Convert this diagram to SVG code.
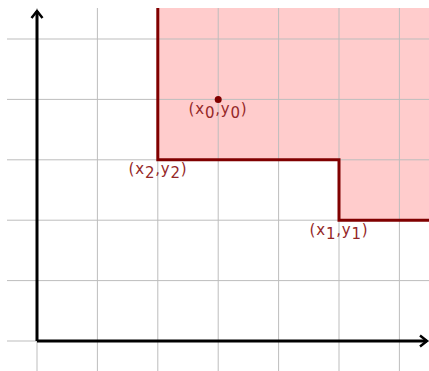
<svg xmlns="http://www.w3.org/2000/svg" width="429" height="371" viewBox="0 0 429 371">
<style>
.grid{stroke:#bdbdbd;stroke-width:1;fill:none}
.axis{stroke:#000;stroke-width:3;fill:none}
.region{fill:#ffcccc;stroke:none}
.border{stroke:#800000;stroke-width:3;fill:none}
.lbl{font-family:"DejaVu Sans",sans-serif;font-size:15px;fill:#952828;text-anchor:middle;letter-spacing:0.8px}
</style>
<defs>
<marker id="arr" viewBox="0 0 14 14" refX="10" refY="7" markerWidth="14" markerHeight="14" markerUnits="userSpaceOnUse" orient="auto">
<path d="M3,1.5 L10,7 L3,12.5" fill="none" stroke="#000" stroke-width="2.5"/>
</marker>
</defs>
<g id="region">
<path class="region" d="M157.8,8 L157.8,159.8 L339,159.8 L339,220.2 L429,220.2 L429,8 Z"/>
</g>
<g id="grid">
<path class="grid" d="M7,39 H429 M7,99.4 H429 M7,159.8 H429 M7,220.2 H429 M7,280.6 H429 M7,341 H429"/>
<path class="grid" d="M37,8 V371 M97.4,8 V371 M157.8,8 V371 M218.2,8 V371 M278.6,8 V371 M339,8 V371 M399.4,8 V371"/>
</g>
<g id="connectors">
<path class="border" d="M157.8,8 L157.8,159.8 L339,159.8 L339,220.2 L429,220.2"/>
<path class="axis" d="M37,341 L37,11" marker-end="url(#arr)"/>
<path class="axis" d="M37,341 L427,341" marker-end="url(#arr)"/>
</g>
<g id="p0">
<circle cx="218.2" cy="99.4" r="3.5" fill="#800000"/>
<text class="lbl" x="218" y="114">(x<tspan dy="4">0</tspan><tspan dy="-4">,y</tspan><tspan dy="4">0</tspan><tspan dy="-4">)</tspan></text>
</g>
<g id="p2">
<text class="lbl" x="158" y="174">(x<tspan dy="4">2</tspan><tspan dy="-4">,y</tspan><tspan dy="4">2</tspan><tspan dy="-4">)</tspan></text>
</g>
<g id="p1">
<text class="lbl" x="339" y="235">(x<tspan dy="4">1</tspan><tspan dy="-4">,y</tspan><tspan dy="4">1</tspan><tspan dy="-4">)</tspan></text>
</g>
</svg>
